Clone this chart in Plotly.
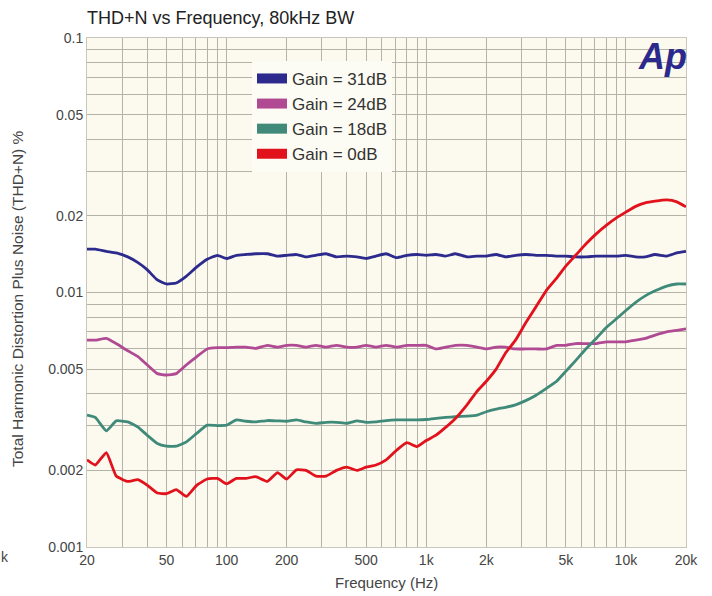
import plotly.graph_objects as go

# ---------------- data ----------------
freq_hz = [20, 22, 25, 28, 32, 36, 40, 45, 50, 56, 63, 71, 80, 90, 100, 112, 125, 140, 160, 180,
           200, 224, 250, 280, 315, 355, 400, 450, 500, 560, 630, 710, 800, 900, 1000, 1120, 1250,
           1400, 1600, 1800, 2000, 2240, 2500, 2800, 3150, 3550, 4000, 4500, 5000, 5600, 6300,
           7100, 8000, 9000, 10000, 11200, 12500, 14000, 16000, 18000, 20000]

thd_31db = [0.0148, 0.0148, 0.0145, 0.0143, 0.0138, 0.0131, 0.0123, 0.0112, 0.0108, 0.0109, 0.0116,
            0.0126, 0.0135, 0.0140, 0.0136, 0.0140, 0.0141, 0.0142, 0.0142, 0.0139, 0.0140, 0.0141,
            0.0138, 0.0140, 0.0142, 0.0138, 0.0139, 0.0138, 0.0136, 0.0139, 0.0142, 0.0137, 0.0140,
            0.0141, 0.0140, 0.0141, 0.0139, 0.0142, 0.0138, 0.0139, 0.0139, 0.0141, 0.0138, 0.0140,
            0.0141, 0.0140, 0.0140, 0.0139, 0.0139, 0.0138, 0.0138, 0.0139, 0.0139, 0.0139, 0.0140,
            0.0138, 0.0138, 0.0141, 0.0139, 0.0143, 0.0145]

thd_24db = [0.0065, 0.0065, 0.0066, 0.0063, 0.0059, 0.0056, 0.0052, 0.0048, 0.00474, 0.0048, 0.0052,
            0.0056, 0.0060, 0.00607, 0.00607, 0.0061, 0.0061, 0.00603, 0.0062, 0.0061, 0.0062, 0.0062,
            0.0061, 0.0062, 0.0061, 0.0062, 0.0061, 0.0061, 0.0062, 0.0061, 0.0062, 0.0061, 0.0062,
            0.0062, 0.0062, 0.0060, 0.0061, 0.0062, 0.0062, 0.0061, 0.0060, 0.0061, 0.0061, 0.0060,
            0.0060, 0.0060, 0.0060, 0.0062, 0.0062, 0.0063, 0.0063, 0.0063, 0.0064, 0.0064, 0.0064,
            0.0065, 0.0066, 0.0068, 0.0070, 0.0071, 0.0072]

thd_18db = [0.00330, 0.00323, 0.00286, 0.00313, 0.00310, 0.00296, 0.00275, 0.00255, 0.00249, 0.00249,
            0.00259, 0.00280, 0.00301, 0.00300, 0.00301, 0.00316, 0.00312, 0.00310, 0.00314, 0.00313,
            0.00312, 0.00316, 0.00310, 0.00306, 0.00309, 0.00309, 0.00306, 0.00313, 0.00309, 0.00310,
            0.00314, 0.00316, 0.00316, 0.00316, 0.00317, 0.00320, 0.00323, 0.00325, 0.00327, 0.00330,
            0.00340, 0.00348, 0.00354, 0.00362, 0.00376, 0.00395, 0.00420, 0.00448, 0.00490, 0.00540,
            0.00600, 0.00660, 0.00730, 0.00790, 0.00850, 0.00915, 0.00970, 0.01015, 0.01060, 0.01080,
            0.01080]

thd_0db = [0.00220, 0.00210, 0.00235, 0.00190, 0.00181, 0.00184, 0.00175, 0.00163, 0.00162, 0.00168,
           0.00158, 0.00175, 0.00185, 0.00186, 0.00177, 0.00186, 0.00186, 0.00189, 0.00181, 0.00196,
           0.00185, 0.00201, 0.00200, 0.00190, 0.00190, 0.00200, 0.00206, 0.00200, 0.00206, 0.00210,
           0.00220, 0.00240, 0.00257, 0.00248, 0.00262, 0.00275, 0.00295, 0.00320, 0.00362, 0.00410,
           0.00448, 0.00500, 0.00580, 0.00650, 0.00760, 0.00880, 0.01020, 0.01140, 0.01270, 0.01400,
           0.01550, 0.01700, 0.01840, 0.01970, 0.02070, 0.02180, 0.02250, 0.02285, 0.02310, 0.02270,
           0.02170]

series_names = ["Gain = 31dB", "Gain = 24dB", "Gain = 18dB", "Gain = 0dB"]
series_values = [thd_31db, thd_24db, thd_18db, thd_0db]
series_colors = ["#2d2a8e", "#b04a93", "#3f8a79", "#e2121d"]

x_tick_vals = [20, 50, 100, 200, 500, 1000, 2000, 5000, 10000, 20000]
x_tick_text = ["20", "50", "100", "200", "500", "1k", "2k", "5k", "10k", "20k"]
x_grid_vals = [20, 30, 40, 50, 60, 70, 80, 90, 100, 200, 300, 400, 500, 600, 700, 800, 900,
               1000, 2000, 3000, 4000, 5000, 6000, 7000, 8000, 9000, 10000, 20000]

y_tick_vals = [0.001, 0.002, 0.005, 0.01, 0.02, 0.05, 0.1]
y_tick_text = ["0.001", "0.002", "0.005", "0.01", "0.02", "0.05", "0.1"]
y_grid_vals = [0.001, 0.002, 0.003, 0.004, 0.005, 0.006, 0.007, 0.008, 0.009,
               0.01, 0.02, 0.03, 0.04, 0.05, 0.06, 0.07, 0.08, 0.09, 0.1]

# ---------------- figure ----------------
FONT = "Liberation Sans, Arial, sans-serif"
GRID = "#b5b3a8"

fig = go.Figure()

for name, vals, col in zip(series_names, series_values, series_colors):
    fig.add_trace(go.Scatter(x=freq_hz, y=vals, mode="lines", name=name,
                             line=dict(color=col, width=2.8, shape="spline", smoothing=0.4),
                             showlegend=False, hoverinfo="x+y+name"))

for name, col in zip(series_names, series_colors):
    fig.add_trace(go.Scatter(x=[None], y=[None], mode="lines", name=name,
                             line=dict(color=col, width=15), showlegend=True))

fig.update_layout(
    width=712, height=596,
    margin=dict(l=87, r=26, t=38, b=49),
    paper_bgcolor="white",
    plot_bgcolor="#fcfaee",
    font=dict(family=FONT, size=14, color="#444444"),
    title=dict(text="THD+N vs Frequency, 80kHz BW", x=87 / 712, xanchor="left",
               y=1 - 18 / 596, yanchor="middle",
               font=dict(family=FONT, size=18, color="#222222")),
    legend=dict(x=0.2755, y=0.955, xanchor="left", yanchor="top",
                bgcolor="#fdfcf4", borderwidth=0, itemwidth=30,
                entrywidth=125, entrywidthmode="pixels",
                font=dict(family=FONT, size=17, color="#333333"),
                tracegroupgap=0),
    showlegend=True,
)

fig.update_xaxes(
    type="log", range=[1.30103, 4.30103],
    tickmode="array", tickvals=x_tick_vals, ticktext=x_tick_text,
    showgrid=True, gridcolor=GRID, gridwidth=1,
    minor=dict(tickmode="array", tickvals=x_grid_vals, showgrid=True, gridcolor=GRID, gridwidth=1),
    showline=True, linecolor="#c9c7bc", linewidth=1, mirror=True,
    ticks="", zeroline=False,
    tickfont=dict(family=FONT, size=14, color="#444444"),
)
fig.update_yaxes(
    type="log", range=[-3, -1],
    tickmode="array", tickvals=y_tick_vals, ticktext=y_tick_text,
    showgrid=True, gridcolor=GRID, gridwidth=1,
    minor=dict(tickmode="array", tickvals=y_grid_vals, showgrid=True, gridcolor=GRID, gridwidth=1),
    showline=True, linecolor="#c9c7bc", linewidth=1, mirror=True,
    ticks="", zeroline=False,
    tickfont=dict(family=FONT, size=14, color="#444444"),
)

fig.add_annotation(text="Total Harmonic Distortion Plus Noise (THD+N) %",
                   xref="paper", yref="paper", x=-0.117, y=0.489, textangle=-90,
                   xanchor="center", yanchor="middle", showarrow=False,
                   font=dict(family=FONT, size=15.5, color="#444444"))
fig.add_annotation(text="Frequency (Hz)", xref="paper", yref="paper", x=0.5, y=-0.069,
                   xanchor="center", yanchor="middle", showarrow=False,
                   font=dict(family=FONT, size=15, color="#444444"))
fig.add_annotation(text="<b><i>Ap</i></b>", xref="paper", yref="paper", x=0.96, y=0.963,
                   xanchor="center", yanchor="middle", showarrow=False,
                   font=dict(family=FONT, size=36, color="#2b2a8c"))
fig.add_annotation(text="k", xref="paper", yref="paper", x=-0.137, y=-0.02,
                   xanchor="center", yanchor="middle", showarrow=False,
                   font=dict(family=FONT, size=14, color="#444444"))

fig.write_html("out.html", config={"displayModeBar": False},
               post_script="document.body.style.margin='0px';")
